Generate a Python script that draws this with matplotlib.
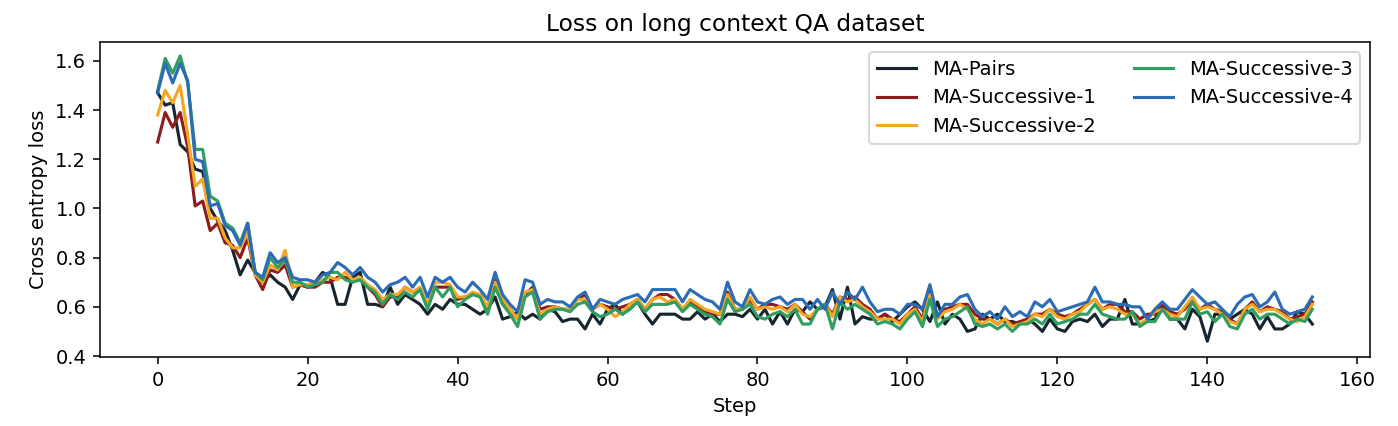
import matplotlib
matplotlib.use("Agg")
import matplotlib.pyplot as plt
import numpy as np

steps = list(range(155))

ma_pairs = [
    1.47, 1.42, 1.43, 1.26, 1.23, 1.16, 1.15, 1.00, 0.95, 0.91,
    0.83, 0.73, 0.79, 0.74, 0.70, 0.73, 0.70, 0.68, 0.63, 0.69,
    0.68, 0.70, 0.74, 0.72, 0.61, 0.61, 0.72, 0.74, 0.61, 0.61,
    0.60, 0.68, 0.61, 0.65, 0.63, 0.61, 0.57, 0.61, 0.59, 0.63,
    0.61, 0.61, 0.59, 0.57, 0.59, 0.64, 0.55, 0.56, 0.58, 0.55,
    0.57, 0.55, 0.59, 0.58, 0.54, 0.55, 0.55, 0.51, 0.57, 0.53,
    0.59, 0.61, 0.57, 0.61, 0.62, 0.57, 0.53, 0.57, 0.57, 0.57,
    0.55, 0.55, 0.58, 0.55, 0.57, 0.54, 0.57, 0.57, 0.56, 0.59,
    0.55, 0.59, 0.53, 0.58, 0.53, 0.59, 0.58, 0.62, 0.59, 0.60,
    0.67, 0.55, 0.68, 0.53, 0.56, 0.55, 0.55, 0.57, 0.54, 0.57,
    0.60, 0.62, 0.59, 0.54, 0.62, 0.53, 0.57, 0.55, 0.50, 0.51,
    0.57, 0.55, 0.57, 0.54, 0.54, 0.53, 0.55, 0.53, 0.50, 0.55,
    0.51, 0.50, 0.54, 0.55, 0.54, 0.57, 0.52, 0.55, 0.55, 0.63,
    0.53, 0.53, 0.54, 0.55, 0.60, 0.55, 0.55, 0.51, 0.59, 0.56,
    0.46, 0.57, 0.57, 0.55, 0.57, 0.59, 0.57, 0.51, 0.56, 0.51,
    0.51, 0.53, 0.58, 0.57, 0.53,
]

ma_succ1 = [
    1.27, 1.39, 1.33, 1.39, 1.25, 1.01, 1.03, 0.91, 0.94, 0.86,
    0.85, 0.80, 0.88, 0.73, 0.67, 0.75, 0.74, 0.77, 0.68, 0.69,
    0.68, 0.68, 0.70, 0.70, 0.72, 0.72, 0.71, 0.71, 0.68, 0.65,
    0.60, 0.64, 0.64, 0.68, 0.66, 0.67, 0.60, 0.68, 0.68, 0.68,
    0.63, 0.64, 0.65, 0.65, 0.59, 0.71, 0.62, 0.59, 0.55, 0.65,
    0.68, 0.59, 0.60, 0.60, 0.59, 0.59, 0.63, 0.65, 0.59, 0.61,
    0.60, 0.59, 0.60, 0.61, 0.63, 0.59, 0.63, 0.65, 0.65, 0.63,
    0.59, 0.62, 0.60, 0.58, 0.57, 0.57, 0.66, 0.59, 0.59, 0.63,
    0.59, 0.61, 0.61, 0.60, 0.59, 0.61, 0.58, 0.55, 0.59, 0.61,
    0.57, 0.64, 0.63, 0.64, 0.61, 0.59, 0.55, 0.57, 0.55, 0.54,
    0.57, 0.60, 0.55, 0.67, 0.56, 0.59, 0.60, 0.61, 0.61, 0.57,
    0.55, 0.55, 0.53, 0.55, 0.53, 0.54, 0.55, 0.57, 0.57, 0.59,
    0.57, 0.56, 0.57, 0.59, 0.61, 0.63, 0.59, 0.61, 0.61, 0.58,
    0.58, 0.55, 0.57, 0.57, 0.61, 0.58, 0.57, 0.59, 0.63, 0.59,
    0.61, 0.59, 0.58, 0.55, 0.53, 0.59, 0.62, 0.58, 0.60, 0.59,
    0.58, 0.55, 0.56, 0.57, 0.62,
]

ma_succ2 = [
    1.38, 1.48, 1.43, 1.50, 1.30, 1.09, 1.12, 0.96, 0.96, 0.88,
    0.84, 0.84, 0.90, 0.73, 0.70, 0.77, 0.75, 0.83, 0.68, 0.69,
    0.69, 0.70, 0.71, 0.72, 0.71, 0.74, 0.71, 0.72, 0.69, 0.67,
    0.63, 0.65, 0.65, 0.68, 0.66, 0.68, 0.61, 0.70, 0.70, 0.69,
    0.64, 0.64, 0.66, 0.65, 0.60, 0.70, 0.63, 0.59, 0.55, 0.66,
    0.67, 0.57, 0.59, 0.60, 0.59, 0.59, 0.63, 0.63, 0.59, 0.61,
    0.59, 0.56, 0.58, 0.61, 0.63, 0.59, 0.63, 0.64, 0.62, 0.63,
    0.59, 0.63, 0.61, 0.59, 0.58, 0.57, 0.65, 0.59, 0.59, 0.64,
    0.59, 0.60, 0.59, 0.60, 0.58, 0.61, 0.57, 0.56, 0.59, 0.61,
    0.56, 0.64, 0.62, 0.63, 0.60, 0.58, 0.55, 0.55, 0.55, 0.53,
    0.57, 0.59, 0.54, 0.65, 0.55, 0.58, 0.59, 0.61, 0.59, 0.55,
    0.53, 0.55, 0.53, 0.55, 0.52, 0.53, 0.54, 0.57, 0.56, 0.59,
    0.56, 0.55, 0.57, 0.58, 0.61, 0.63, 0.59, 0.60, 0.59, 0.57,
    0.57, 0.53, 0.55, 0.58, 0.59, 0.57, 0.56, 0.60, 0.64, 0.59,
    0.60, 0.59, 0.57, 0.54, 0.53, 0.59, 0.61, 0.58, 0.59, 0.59,
    0.57, 0.55, 0.54, 0.56, 0.61,
]

ma_succ3 = [
    1.48, 1.61, 1.55, 1.62, 1.51, 1.24, 1.24, 1.05, 1.03, 0.94,
    0.92, 0.86, 0.94, 0.74, 0.71, 0.80, 0.76, 0.79, 0.70, 0.70,
    0.68, 0.69, 0.70, 0.74, 0.74, 0.71, 0.70, 0.71, 0.68, 0.66,
    0.61, 0.65, 0.63, 0.66, 0.64, 0.67, 0.59, 0.68, 0.64, 0.68,
    0.60, 0.63, 0.65, 0.64, 0.57, 0.68, 0.61, 0.57, 0.52, 0.64,
    0.66, 0.55, 0.58, 0.59, 0.59, 0.58, 0.61, 0.62, 0.58, 0.56,
    0.57, 0.59, 0.57, 0.59, 0.62, 0.58, 0.61, 0.61, 0.61, 0.62,
    0.58, 0.61, 0.59, 0.57, 0.56, 0.53, 0.63, 0.58, 0.59, 0.61,
    0.56, 0.55, 0.57, 0.58, 0.56, 0.59, 0.53, 0.53, 0.59, 0.61,
    0.51, 0.62, 0.59, 0.61, 0.59, 0.57, 0.53, 0.54, 0.53, 0.51,
    0.55, 0.58, 0.52, 0.63, 0.52, 0.55, 0.56, 0.58, 0.60, 0.53,
    0.52, 0.53, 0.51, 0.53, 0.50, 0.53, 0.53, 0.55, 0.53, 0.57,
    0.53, 0.54, 0.55, 0.57, 0.57, 0.61, 0.57, 0.56, 0.55, 0.55,
    0.58, 0.52, 0.54, 0.54, 0.59, 0.55, 0.55, 0.55, 0.62, 0.57,
    0.58, 0.54, 0.57, 0.52, 0.51, 0.57, 0.59, 0.55, 0.57, 0.57,
    0.55, 0.53, 0.55, 0.54, 0.59,
]

ma_succ4 = [
    1.47, 1.59, 1.51, 1.59, 1.52, 1.20, 1.19, 1.01, 1.02, 0.93,
    0.91, 0.85, 0.94, 0.74, 0.72, 0.82, 0.78, 0.80, 0.72, 0.71,
    0.71, 0.70, 0.73, 0.74, 0.78, 0.76, 0.73, 0.76, 0.72, 0.70,
    0.66, 0.69, 0.70, 0.72, 0.68, 0.72, 0.64, 0.72, 0.70, 0.72,
    0.68, 0.66, 0.70, 0.67, 0.63, 0.74, 0.65, 0.61, 0.58, 0.71,
    0.70, 0.61, 0.63, 0.62, 0.62, 0.60, 0.64, 0.66, 0.59, 0.63,
    0.62, 0.61, 0.63, 0.64, 0.65, 0.62, 0.67, 0.67, 0.67, 0.67,
    0.62, 0.67, 0.65, 0.63, 0.62, 0.59, 0.70, 0.62, 0.60, 0.67,
    0.62, 0.61, 0.63, 0.64, 0.61, 0.63, 0.63, 0.59, 0.63, 0.59,
    0.66, 0.61, 0.66, 0.63, 0.68, 0.62, 0.58, 0.59, 0.59, 0.57,
    0.61, 0.61, 0.59, 0.69, 0.56, 0.61, 0.61, 0.64, 0.65, 0.59,
    0.56, 0.58, 0.55, 0.60, 0.56, 0.58, 0.56, 0.62, 0.60, 0.63,
    0.58, 0.59, 0.60, 0.61, 0.62, 0.68, 0.62, 0.62, 0.61, 0.61,
    0.60, 0.60, 0.55, 0.59, 0.62, 0.59, 0.59, 0.63, 0.67, 0.64,
    0.61, 0.62, 0.59, 0.56, 0.61, 0.64, 0.65, 0.60, 0.62, 0.66,
    0.59, 0.57, 0.58, 0.59, 0.64,
]

series = [
    ("MA-Pairs", ma_pairs, "#17262e"),
    ("MA-Successive-1", ma_succ1, "#8b1d1d"),
    ("MA-Successive-2", ma_succ2, "#f5a623"),
    ("MA-Successive-3", ma_succ3, "#2f9e5f"),
    ("MA-Successive-4", ma_succ4, "#2b6cb5"),
]

fig = plt.figure(figsize=(1398 / 140, 426 / 140), dpi=140)
ax = fig.add_axes([0.0715, 0.162, 0.9085, 0.739])
for name, vals, col in series:
    ax.plot(steps, vals, color=col, linewidth=1.6, label=name)

ax.set_ylim(0.396, 1.676)
ax.set_title("Loss on long context QA dataset")
ax.set_xlabel("Step")
ax.set_ylabel("Cross entropy loss")
ax.legend(loc="upper right", ncol=2)
fig.savefig("out.png", dpi=140)
